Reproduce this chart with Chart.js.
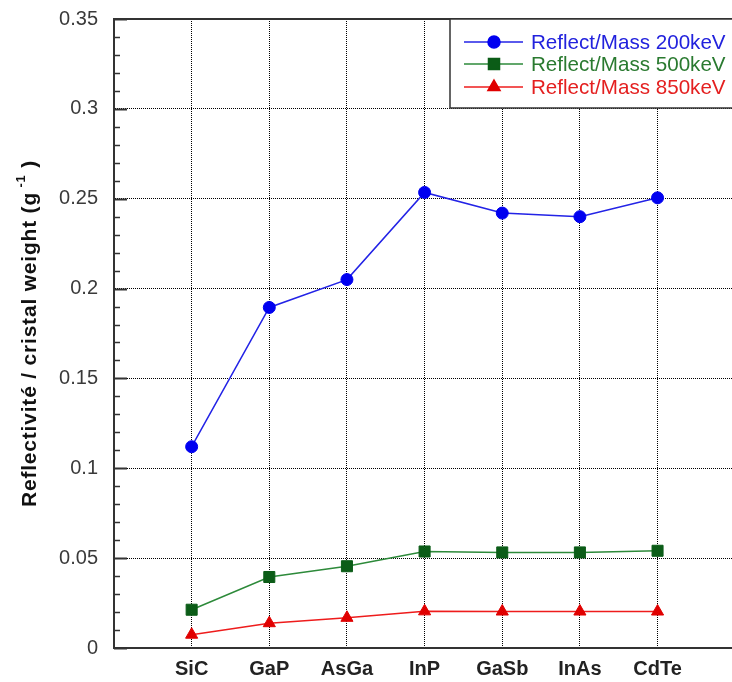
<!DOCTYPE html>
<html>
<head>
<meta charset="utf-8">
<script src="https://cdn.jsdelivr.net/npm/chart.js@4"></script>
<style>
  html, body { margin: 0; padding: 0; background: #fff; overflow: hidden; }
  #wrap { position: relative; width: 744px; height: 682px; }
</style>
</head>
<body>
<div id="wrap"><canvas id="chart"></canvas></div>
<script>
const categories = ['SiC', 'GaP', 'AsGa', 'InP', 'GaSb', 'InAs', 'CdTe'];
const mass200 = [0.112, 0.1895, 0.205, 0.2535, 0.242, 0.240, 0.2505];
const mass500 = [0.0213, 0.0395, 0.0455, 0.0537, 0.0532, 0.0532, 0.0541];
const mass850 = [0.0074, 0.0138, 0.0168, 0.0204, 0.0203, 0.0203, 0.0203];
const seriesLabels = ['Reflect/Mass 200keV', 'Reflect/Mass 500keV', 'Reflect/Mass 850keV'];
const yTitle = 'Reflectivité / cristal weight (g';

const toPoints = (vals) => vals.map((v, i) => ({ x: i + 1, y: v }));

const AXIS = '#333';
const FONT = '"Liberation Sans", Arial, sans-serif';

// minor ticks, top frame line, y title, legend box
const decorations = {
    id: 'decorations',
    afterDraw(chart) {
        const { ctx, chartArea: a, scales: { y } } = chart;
        ctx.save();
        ctx.strokeStyle = AXIS;
        for (let k = 0; k <= 35; k++) {
            const py = Math.round(y.getPixelForValue(k / 100)) + 0.5;
            const major = k % 5 === 0;
            ctx.lineWidth = major ? 2 : 1.5;
            ctx.beginPath();
            ctx.moveTo(a.left, py);
            ctx.lineTo(a.left + (major ? 13 : 6), py);
            ctx.stroke();
        }
        // top frame
        ctx.lineWidth = 2;
        ctx.beginPath();
        ctx.moveTo(a.left - 1, a.top);
        ctx.lineTo(a.right + 10, a.top);
        ctx.stroke();

        // y title with superscript
        ctx.translate(30, (a.top + a.bottom) / 2);
        ctx.rotate(-Math.PI / 2);
        ctx.fillStyle = '#111';
        ctx.textBaseline = 'middle';
        ctx.letterSpacing = '0.8px';
        ctx.font = 'bold 21px ' + FONT;
        const w1 = ctx.measureText(yTitle).width;
        ctx.font = 'bold 13px ' + FONT;
        const w2 = ctx.measureText(' -1').width;
        ctx.font = 'bold 21px ' + FONT;
        const w3 = ctx.measureText(' )').width;
        let x0 = -(w1 + w2 + w3) / 2;
        ctx.textAlign = 'left';
        ctx.fillText(yTitle, x0, 0);
        ctx.font = 'bold 13px ' + FONT;
        ctx.fillText(' -1', x0 + w1, -9);
        ctx.font = 'bold 21px ' + FONT;
        ctx.fillText(' )', x0 + w1 + w2, 0);
        ctx.restore();

        // legend
        ctx.save();
        ctx.fillStyle = '#fff';
        ctx.strokeStyle = AXIS;
        ctx.lineWidth = 1.5;
        ctx.fillRect(450, a.top, 320, 89);
        ctx.strokeRect(450, a.top, 320, 89);
        ctx.font = '20.6px ' + FONT;
        ctx.textBaseline = 'middle';
        const rows = [42, 64, 87];
        chart.data.datasets.forEach((ds, i) => {
            const ry = rows[i];
            ctx.strokeStyle = ds.borderColor;
            ctx.lineWidth = 1.5;
            ctx.beginPath();
            ctx.moveTo(464, ry);
            ctx.lineTo(523, ry);
            ctx.stroke();
            ctx.fillStyle = ds.pointBackgroundColor;
            ctx.strokeStyle = ds.pointBackgroundColor;
            Chart.helpers.drawPoint(ctx, {
                pointStyle: ds.pointStyle, radius: ds.pointRadius, borderWidth: 1
            }, 494, ry);
            ctx.fillStyle = ds.legendColor;
            ctx.fillText(ds.label, 531, ry + 1);
        });
        ctx.restore();
    }
};

const lineSet = (label, vals, line, mark, style, r, textColor) => ({
    label: label,
    data: toPoints(vals),
    borderColor: line,
    borderWidth: 1.5,
    pointStyle: style,
    pointRadius: r,
    pointHoverRadius: r,
    pointBackgroundColor: mark,
    pointBorderColor: mark,
    pointBorderWidth: 1,
    legendColor: textColor,
    tension: 0
});

new Chart(document.getElementById('chart'), {
    type: 'line',
    data: {
        datasets: [
            lineSet(seriesLabels[0], mass200, '#2323e6', '#0000f0', 'circle', 6, '#2222dd'),
            lineSet(seriesLabels[1], mass500, '#2d8a3a', '#0b5c17', 'rect', 7.8, '#2a7a30'),
            lineSet(seriesLabels[2], mass850, '#ee1c1c', '#e00000', 'triangle', 7, '#e42020')
        ]
    },
    options: {
        responsive: true,
        maintainAspectRatio: false,
        animation: false,
        events: [],
        layout: { padding: { top: 19, right: 2, left: 0, bottom: 0 } },
        plugins: { legend: { display: false }, tooltip: { enabled: false } },
        scales: {
            x: {
                type: 'linear',
                min: 0,
                max: 8,
                afterFit: (s) => { s.height = 34; s.paddingLeft = 0; s.paddingRight = 0; },
                ticks: {
                    stepSize: 1,
                    autoSkip: false,
                    maxRotation: 0,
                    padding: 9,
                    color: '#222',
                    font: { family: FONT, size: 20, weight: 'bold' },
                    callback: (v) => categories[v - 1] || ''
                },
                grid: { color: '#000', lineWidth: 1, drawTicks: false },
                border: { display: true, color: AXIS, width: 2, dash: [1, 1] }
            },
            y: {
                min: 0,
                max: 0.35,
                afterFit: (s) => { s.width = 114; s.paddingTop = 0; s.paddingBottom = 0; },
                ticks: {
                    stepSize: 0.05,
                    padding: 16,
                    color: '#3a3a3a',
                    font: { family: FONT, size: 20 },
                    callback: (v) => String(Math.round(v * 100) / 100)
                },
                grid: { color: '#000', lineWidth: 1, drawTicks: false },
                border: { display: true, color: AXIS, width: 2, dash: [1, 1] }
            }
        }
    },
    plugins: [decorations]
});
</script>
</body>
</html>
